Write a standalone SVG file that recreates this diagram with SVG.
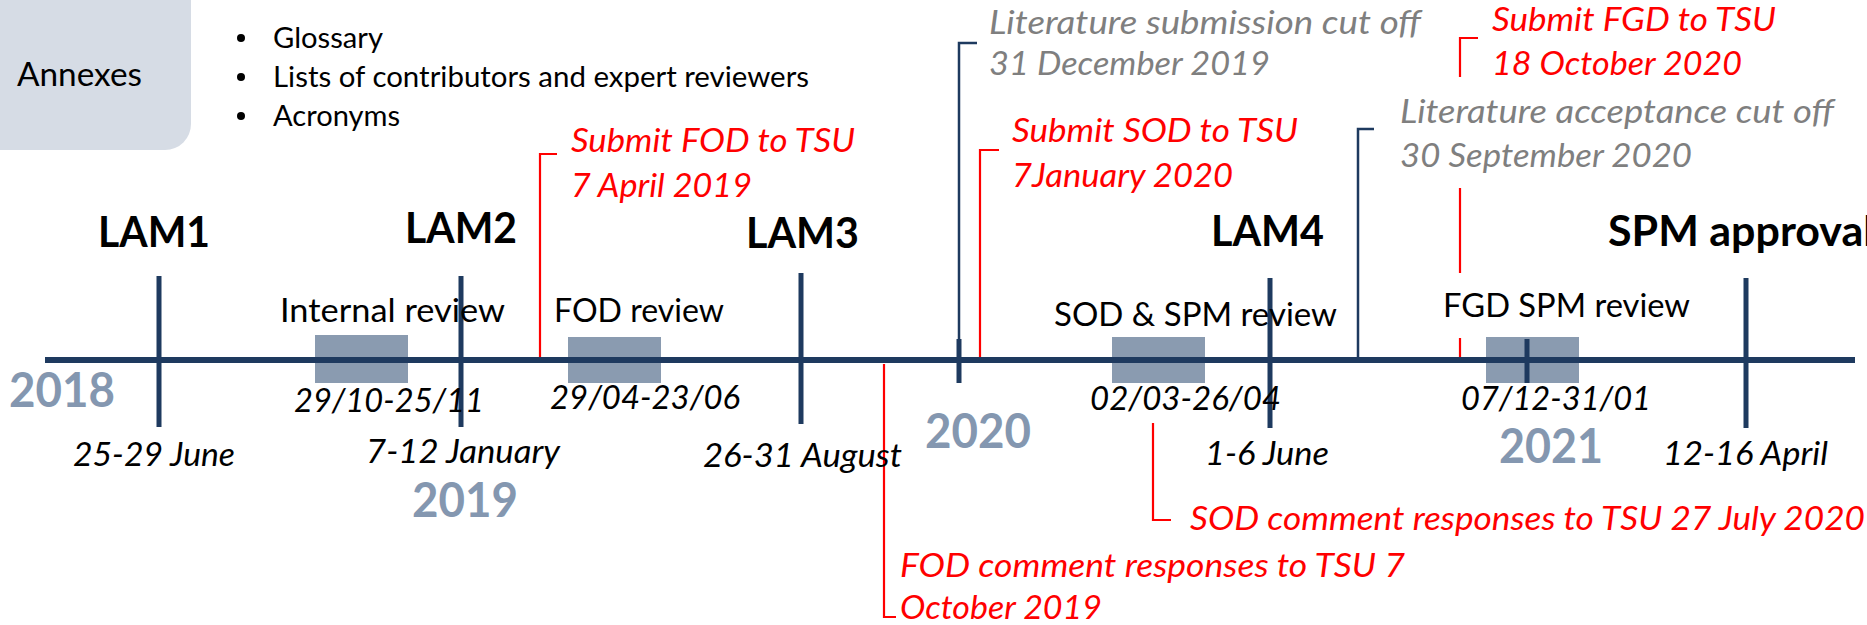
<svg xmlns="http://www.w3.org/2000/svg" width="1867" height="625" viewBox="0 0 1867 625">
<style>
text{font-family:Lato,"Open Sans","Liberation Sans",sans-serif}
.reg{font-size:33px;fill:#000}
.it{font-size:33px;font-style:italic;fill:#000}
.red{font-size:33px;font-style:italic;fill:#ff0000}
.gry{font-size:33px;font-style:italic;fill:#7f7f7f}
.lam{font-size:42px;font-weight:bold;fill:#000}
.yr{font-size:47px;font-weight:bold;fill:#8497b0}
.bul{font-size:29px;fill:#000}
.box{fill:#8a9bb0}
.tick{stroke:#1e3a5f;stroke-width:5;fill:none}
.navy{stroke:#1e3a5f;stroke-width:2.5;fill:none}
.rl{stroke:#ff0000;stroke-width:2.2;fill:none}
</style>
<rect width="1867" height="625" fill="#fff"/>
<g id="annexes">
<rect x="-30" y="-30" width="221" height="180" rx="26" fill="#d6dce5"/>
<text class="reg" x="17" y="86" textLength="125" lengthAdjust="spacingAndGlyphs">Annexes</text>
</g>
<g id="annex-list">
<circle cx="241" cy="38" r="4"/>
<circle cx="241" cy="77" r="4"/>
<circle cx="241" cy="116" r="4"/>
<text class="bul" x="273" y="48" textLength="110" lengthAdjust="spacingAndGlyphs">Glossary</text>
<text class="bul" x="273" y="87" textLength="536" lengthAdjust="spacingAndGlyphs">Lists of contributors and expert reviewers</text>
<text class="bul" x="273" y="126" textLength="127" lengthAdjust="spacingAndGlyphs">Acronyms</text>
</g>
<g id="review-boxes">
<rect class="box" x="315" y="335" width="93" height="48"/>
<rect class="box" x="568" y="337" width="93" height="46"/>
<rect class="box" x="1112" y="337" width="93" height="46"/>
<rect class="box" x="1486" y="337" width="93" height="46"/>
</g>
<g id="connectors">
<path class="navy" d="M977,43 H959 V339"/>
<path class="navy" d="M1374,129 H1358 V360"/>
<path class="rl" d="M557,154 H540 V363"/>
<path class="rl" d="M999,150 H980 V363"/>
<path class="rl" d="M1478,38 H1460 V77"/>
<path class="rl" d="M1460,188 V273"/>
<path class="rl" d="M1460,338 V357"/>
<path class="rl" d="M884,364 V617 H896"/>
<path class="rl" d="M1153,423 V520 H1171"/>
</g>
<g id="timeline">
<line x1="45" y1="360" x2="1855" y2="360" stroke="#1e3a5f" stroke-width="6"/>
<line class="tick" x1="159" y1="276" x2="159" y2="427"/>
<line class="tick" x1="461" y1="276" x2="461" y2="427"/>
<line class="tick" x1="801" y1="273" x2="801" y2="424"/>
<line class="tick" x1="1270" y1="278" x2="1270" y2="428"/>
<line class="tick" x1="1746" y1="278" x2="1746" y2="428"/>
<line class="tick" x1="959" y1="339" x2="959" y2="383"/>
<line class="tick" x1="1527" y1="339" x2="1527" y2="383"/>
</g>
<g id="lam1">
<text class="lam" x="98" y="247" textLength="112" lengthAdjust="spacingAndGlyphs">LAM1</text>
<text class="it" x="73" y="466" textLength="162" lengthAdjust="spacingAndGlyphs">25-29 June</text>
</g>
<g id="lam2">
<text class="lam" x="405" y="243" textLength="112" lengthAdjust="spacingAndGlyphs">LAM2</text>
<text class="it" x="366" y="463" textLength="194" lengthAdjust="spacingAndGlyphs">7-12 January</text>
</g>
<g id="lam3">
<text class="lam" x="746" y="248" textLength="113" lengthAdjust="spacingAndGlyphs">LAM3</text>
<text class="it" x="703" y="467" textLength="199" lengthAdjust="spacingAndGlyphs">26-31 August</text>
</g>
<g id="lam4">
<text class="lam" x="1211" y="246" textLength="113" lengthAdjust="spacingAndGlyphs">LAM4</text>
<text class="it" x="1205" y="465" textLength="124" lengthAdjust="spacingAndGlyphs">1-6 June</text>
</g>
<g id="spm-approval">
<text class="lam" x="1608" y="246" textLength="266" lengthAdjust="spacingAndGlyphs">SPM approval</text>
<text class="it" x="1663" y="465" textLength="165" lengthAdjust="spacingAndGlyphs">12-16 April</text>
</g>
<g id="internal-review">
<text class="reg" x="280" y="322" textLength="225" lengthAdjust="spacingAndGlyphs">Internal review</text>
<text class="it" x="294" y="412" textLength="190" lengthAdjust="spacingAndGlyphs">29/10-25/11</text>
</g>
<g id="fod-review">
<text class="reg" x="554" y="322" textLength="170" lengthAdjust="spacingAndGlyphs">FOD review</text>
<text class="it" x="550" y="409" textLength="190" lengthAdjust="spacingAndGlyphs">29/04-23/06</text>
</g>
<g id="sod-review">
<text class="reg" x="1054" y="326" textLength="283" lengthAdjust="spacingAndGlyphs">SOD &amp; SPM review</text>
<text class="it" x="1090" y="410" textLength="191" lengthAdjust="spacingAndGlyphs">02/03-26/04</text>
</g>
<g id="fgd-review">
<text class="reg" x="1443" y="317" textLength="247" lengthAdjust="spacingAndGlyphs">FGD SPM review</text>
<text class="it" x="1461" y="410" textLength="190" lengthAdjust="spacingAndGlyphs">07/12-31/01</text>
</g>
<g id="years">
<text class="yr" x="9" y="407" textLength="106" lengthAdjust="spacingAndGlyphs">2018</text>
<text class="yr" x="412" y="517" textLength="106" lengthAdjust="spacingAndGlyphs">2019</text>
<text class="yr" x="925" y="448" textLength="106" lengthAdjust="spacingAndGlyphs">2020</text>
<text class="yr" x="1499" y="463" textLength="104" lengthAdjust="spacingAndGlyphs">2021</text>
</g>
<g id="submit-fod">
<text class="red" x="571" y="152" textLength="284" lengthAdjust="spacingAndGlyphs">Submit FOD to TSU</text>
<text class="red" x="571" y="197" textLength="181" lengthAdjust="spacingAndGlyphs">7 April 2019</text>
</g>
<g id="lit-submission">
<text class="gry" x="989" y="34" textLength="432" lengthAdjust="spacingAndGlyphs">Literature submission cut off</text>
<text class="gry" x="989" y="75" textLength="281" lengthAdjust="spacingAndGlyphs">31 December 2019</text>
</g>
<g id="submit-sod">
<text class="red" x="1012" y="142" textLength="286" lengthAdjust="spacingAndGlyphs">Submit SOD to TSU</text>
<text class="red" x="1012" y="187" textLength="221" lengthAdjust="spacingAndGlyphs">7January 2020</text>
</g>
<g id="lit-acceptance">
<text class="gry" x="1400" y="123" textLength="434" lengthAdjust="spacingAndGlyphs">Literature acceptance cut off</text>
<text class="gry" x="1400" y="167" textLength="292" lengthAdjust="spacingAndGlyphs">30 September 2020</text>
</g>
<g id="submit-fgd">
<text class="red" x="1492" y="31" textLength="284" lengthAdjust="spacingAndGlyphs">Submit FGD to TSU</text>
<text class="red" x="1492" y="75" textLength="250" lengthAdjust="spacingAndGlyphs">18 October 2020</text>
</g>
<g id="fod-comments">
<text class="red" x="900" y="577" textLength="505" lengthAdjust="spacingAndGlyphs">FOD comment responses to TSU 7</text>
<text class="red" x="900" y="619" textLength="202" lengthAdjust="spacingAndGlyphs">October 2019</text>
</g>
<g id="sod-comments">
<text class="red" x="1190" y="530" textLength="675" lengthAdjust="spacingAndGlyphs">SOD comment responses to TSU 27 July 2020</text>
</g>
</svg>
